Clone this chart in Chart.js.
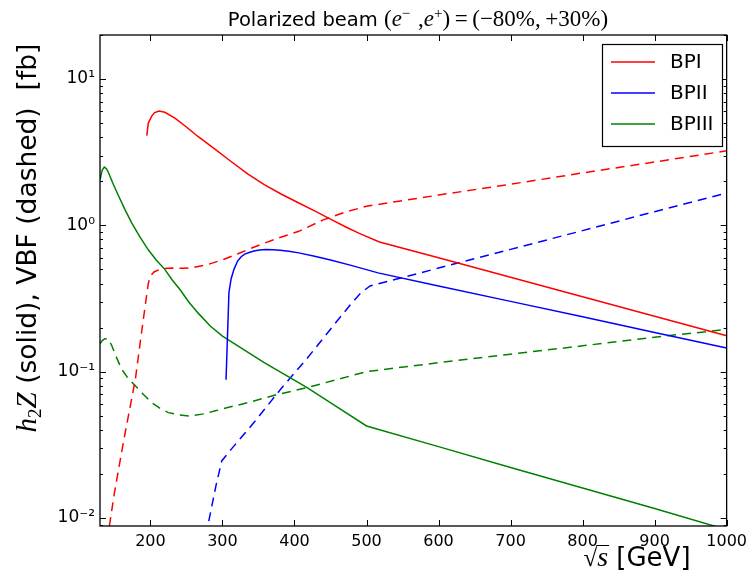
<!DOCTYPE html>
<html lang="en">
<head>
<meta charset="UTF-8">
<title>h2Z (solid), VBF (dashed)</title>
<script src="https://cdn.jsdelivr.net/npm/chart.js"></script>
<style>
  body { margin: 0; background: #fff; }
</style>
</head>
<body>
<canvas id="xsec-chart" width="753" height="577"></canvas>
<script>
// sqrt(s) [GeV] and cross sections [fb]
var bpiHzX = [195, 197, 202, 206, 212, 220, 234, 250, 266, 290, 312, 335, 358, 382, 406, 430, 452, 472, 490, 518, 600, 700, 800, 900, 1000];
var bpiHzY = [4.1, 5.0, 5.6, 5.9, 6.04, 5.93, 5.41, 4.7, 4.05, 3.3, 2.73, 2.25, 1.9, 1.63, 1.42, 1.24, 1.09, 0.97, 0.88, 0.77, 0.6, 0.441, 0.325, 0.239, 0.176];

var bpiiHzX = [305, 309, 312, 316, 321, 326, 331, 338, 345, 352, 360, 370, 380, 392, 406, 428, 450, 480, 516, 600, 700, 800, 900, 1000];
var bpiiHzY = [0.088, 0.346, 0.43, 0.5, 0.57, 0.61, 0.635, 0.655, 0.67, 0.678, 0.683, 0.68, 0.675, 0.665, 0.648, 0.615, 0.58, 0.53, 0.473, 0.385, 0.302, 0.237, 0.185, 0.145];

var bpiiiHzX = [130, 133, 136, 139, 142, 148, 156, 165, 174, 185, 197, 208, 220, 230, 241, 253, 266, 283, 300, 358, 417, 460, 500, 600, 700, 800, 900, 1000];
var bpiiiHzY = [2.05, 2.38, 2.5, 2.44, 2.28, 1.93, 1.58, 1.27, 1.04, 0.84, 0.68, 0.58, 0.5, 0.425, 0.364, 0.3, 0.252, 0.205, 0.175, 0.115, 0.078, 0.057, 0.0425, 0.0307, 0.0221, 0.016, 0.0116, 0.0083];

var bpiVbfX = [143, 150, 163, 179, 188, 197, 200, 205, 215, 230, 245, 260, 280, 301, 325, 347, 375, 406, 440, 470, 500, 600, 700, 800, 900, 1000];
var bpiVbfY = [0.0088, 0.0148, 0.034, 0.088, 0.19, 0.40, 0.45, 0.48, 0.505, 0.51, 0.508, 0.515, 0.54, 0.583, 0.65, 0.72, 0.81, 0.91, 1.09, 1.23, 1.35, 1.61, 1.91, 2.28, 2.71, 3.23];

var bpiiVbfX = [281, 291, 299, 312, 344, 381, 418, 450, 478, 492, 505, 600, 700, 800, 900, 1000];
var bpiiVbfY = [0.0095, 0.0166, 0.0245, 0.0294, 0.045, 0.076, 0.124, 0.195, 0.288, 0.345, 0.385, 0.51, 0.685, 0.92, 1.24, 1.66];

var bpiiiVbfX = [130, 133, 137, 141, 146, 152, 160, 169, 179, 190, 202, 213, 225, 240, 255, 272, 289, 310, 335, 375, 417, 460, 500, 600, 700, 800, 900, 1000];
var bpiiiVbfY = [0.155, 0.163, 0.168, 0.168, 0.152, 0.128, 0.104, 0.09, 0.08, 0.07, 0.0613, 0.0562, 0.0524, 0.0505, 0.0497, 0.0512, 0.0537, 0.0572, 0.0613, 0.0695, 0.0776, 0.0885, 0.1, 0.115, 0.1315, 0.15, 0.172, 0.194];

var xTicks = [200, 300, 400, 500, 600, 700, 800, 900, 1000];
var yTicks = [0.01, 0.1, 1, 10];
var yTickLabels = ['10\u207B\u00B2', '10\u207B\u00B9', '10\u2070', '10\u00B9'];
var seriesNames = ['BPI', 'BPII', 'BPIII'];
var seriesColors = ['#ff0000', '#0000ff', '#008000'];

function pts(xs, ys) {
    return xs.map(function(x, i) { return {x: x, y: ys[i]}; });
}

function line(xs, ys, color, dashed) {
    return {
        data: pts(xs, ys),
        borderColor: color,
        borderWidth: 1.5,
        borderDash: dashed ? [9, 6] : [],
        pointRadius: 0,
        fill: false,
        tension: 0
    };
}

var SANS = '"DejaVu Sans", sans-serif';
var SERIF = '"Liberation Serif", serif';

// draws a row of text pieces with different fonts, centred on x
function drawRuns(ctx, runs, x, y) {
    var total = 0;
    runs.forEach(function(r) { ctx.font = r.font; r.w = ctx.measureText(r.t).width; total += r.w; });
    var cx = x - total / 2;
    ctx.textAlign = 'left';
    ctx.textBaseline = 'alphabetic';
    runs.forEach(function(r) {
        ctx.font = r.font;
        r.x0 = cx;
        ctx.fillText(r.t, cx, y + (r.dy || 0));
        cx += r.w;
    });
    return runs;
}

var framePlugin = {
    id: 'frame',
    afterDraw: function(chart) {
        var ctx = chart.ctx, a = chart.chartArea;
        var xs = chart.scales.x, ys = chart.scales.y;
        ctx.save();
        ctx.strokeStyle = '#000';
        ctx.fillStyle = '#000';
        ctx.lineWidth = 1;
        ctx.beginPath();
        xTicks.forEach(function(v) {
            var px = Math.round(xs.getPixelForValue(v)) + 0.5;
            ctx.moveTo(px, a.bottom); ctx.lineTo(px, a.bottom - 6);
            ctx.moveTo(px, a.top); ctx.lineTo(px, a.top + 6);
        });
        for (var e = -3; e <= 1; e++) {
            for (var m = 1; m <= 9; m++) {
                var v = m * Math.pow(10, e);
                if (v < ys.min || v > ys.max) continue;
                var py = Math.round(ys.getPixelForValue(v)) + 0.5;
                var len = m === 1 ? 6 : 3;
                ctx.moveTo(a.left, py); ctx.lineTo(a.left + len, py);
                ctx.moveTo(a.right, py); ctx.lineTo(a.right - len, py);
            }
        }
        ctx.stroke();
        ctx.lineWidth = 1.3;
        ctx.strokeRect(a.left, a.top, a.right - a.left, a.bottom - a.top);

        // legend
        ctx.fillStyle = '#fff';
        ctx.fillRect(602.5, 44.5, 120, 102);
        ctx.lineWidth = 1.2;
        ctx.strokeRect(602.5, 44.5, 120, 102);
        seriesNames.forEach(function(name, i) {
            var ly = 62 + i * 31;
            ctx.strokeStyle = seriesColors[i];
            ctx.lineWidth = 1.5;
            ctx.beginPath(); ctx.moveTo(611, ly); ctx.lineTo(655, ly); ctx.stroke();
            ctx.fillStyle = '#000';
            ctx.font = '20px ' + SANS;
            ctx.textAlign = 'left';
            ctx.textBaseline = 'middle';
            ctx.fillText(name, 670, ly + 1);
        });

        // title
        ctx.fillStyle = '#000';
        drawRuns(ctx, [
            {t: 'Polarized beam ', font: '19.5px ' + SANS},
            {t: '(', font: '23px ' + SERIF},
            {t: 'e', font: 'italic 23px ' + SERIF},
            {t: '\u2212', font: '15px ' + SERIF, dy: -8},
            {t: '\u2004,', font: '23px ' + SERIF},
            {t: 'e', font: 'italic 23px ' + SERIF},
            {t: '+', font: '15px ' + SERIF, dy: -8},
            {t: ')\u2009=\u2009(\u221280%,\u2009+30%)', font: '23px ' + SERIF}
        ], 418, 26);

        // x axis title
        var xr = drawRuns(ctx, [
            {t: '\u221A', font: '25px ' + SERIF},
            {t: 's', font: 'italic 28px ' + SERIF},
            {t: ' [GeV]', font: '26px ' + SANS}
        ], 637, 566);
        ctx.strokeStyle = '#000';
        ctx.lineWidth = 1;
        ctx.beginPath();
        ctx.moveTo(xr[1].x0 - 1, 566 - 20.5);
        ctx.lineTo(xr[1].x0 + xr[1].w + 1, 566 - 20.5);
        ctx.stroke();

        // y axis title
        ctx.translate(36, 238);
        ctx.rotate(-Math.PI / 2);
        drawRuns(ctx, [
            {t: 'h', font: 'italic 29px ' + SERIF},
            {t: '2', font: '19px ' + SERIF, dy: 5},
            {t: 'Z', font: 'italic 29px ' + SERIF},
            {t: ' (solid), VBF (dashed)  [fb]', font: '26.5px ' + SANS}
        ], 0, 0);
        ctx.restore();
    }
};

var ctx = document.getElementById('xsec-chart').getContext('2d');
var chart = new Chart(ctx, {
    type: 'line',
    data: {
        datasets: [
            line(bpiHzX, bpiHzY, seriesColors[0], false),
            line(bpiiHzX, bpiiHzY, seriesColors[1], false),
            line(bpiiiHzX, bpiiiHzY, seriesColors[2], false),
            line(bpiVbfX, bpiVbfY, seriesColors[0], true),
            line(bpiiVbfX, bpiiVbfY, seriesColors[1], true),
            line(bpiiiVbfX, bpiiiVbfY, seriesColors[2], true)
        ]
    },
    options: {
        responsive: false,
        animation: false,
        layout: { padding: { left: 0, right: 22, top: 35, bottom: 0 } },
        plugins: {
            legend: { display: false },
            title: { display: false },
            tooltip: { enabled: false }
        },
        scales: {
            x: {
                type: 'linear',
                min: 130,
                max: 1000,
                grid: { display: false, drawTicks: false },
                border: { display: false },
                afterBuildTicks: function(scale) {
                    scale.ticks = xTicks.map(function(v) { return {value: v}; });
                },
                afterFit: function(scale) { scale.height = 51; },
                ticks: {
                    padding: 6,
                    maxRotation: 0,
                    autoSkip: false,
                    color: '#000',
                    font: { family: SANS, size: 16 },
                    callback: function(v) { return String(v); }
                }
            },
            y: {
                type: 'logarithmic',
                min: 0.0088,
                max: 20,
                grid: { display: false, drawTicks: false },
                border: { display: false },
                afterBuildTicks: function(scale) {
                    scale.ticks = yTicks.map(function(v) { return {value: v}; });
                },
                afterFit: function(scale) { scale.width = 100; },
                ticks: {
                    padding: 5,
                    autoSkip: false,
                    color: '#000',
                    font: { family: SANS, size: 17 },
                    callback: function(v) {
                        var i = yTicks.indexOf(v);
                        return i >= 0 ? yTickLabels[i] : '';
                    }
                }
            }
        }
    },
    plugins: [framePlugin]
});
</script>
</body>
</html>
